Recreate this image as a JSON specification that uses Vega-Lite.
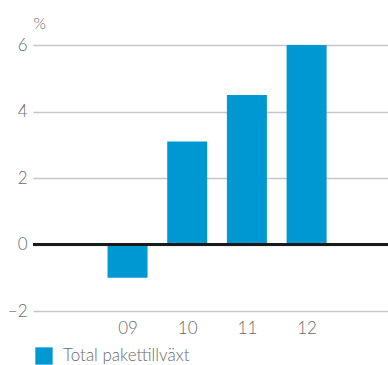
{
  "$schema": "https://vega.github.io/schema/vega-lite/v6.json",
  "width": 355,
  "height": 266,
  "autosize": "none",
  "padding": {"left": 33, "top": 45, "right": 0, "bottom": 54},
  "background": "white",
  "config": {
    "view": {"stroke": null},
    "font": "Lato",
    "axis": {"labelFont": "Lato", "labelFontWeight": 300, "labelColor": "#6a6a6a", "labelFontSize": 17, "titleFont": "Lato"},
    "legend": {"labelFont": "Lato", "labelFontWeight": 300}
  },
  "data": {
    "values": [
      {"year": 9, "value": -1.0, "series": "Total pakettillväxt"},
      {"year": 10, "value": 3.1, "series": "Total pakettillväxt"},
      {"year": 11, "value": 4.5, "series": "Total pakettillväxt"},
      {"year": 12, "value": 6.0, "series": "Total pakettillväxt"}
    ]
  },
  "layer": [
    {
      "mark": {"type": "bar", "width": 40},
      "encoding": {
        "x": {
          "field": "year",
          "type": "quantitative",
          "scale": {"domain": [7.5, 13.28], "nice": false, "zero": false},
          "axis": {
            "title": null,
            "values": [9, 10, 11, 12],
            "labelExpr": "datum.value < 10 ? '0' + datum.value : '' + datum.value",
            "grid": false,
            "domain": false,
            "ticks": false,
            "labelPadding": 9
          }
        },
        "y": {
          "field": "value",
          "type": "quantitative",
          "scale": {"domain": [-2, 6], "nice": false},
          "axis": {
            "title": "%",
            "titleAngle": 0,
            "titleAlign": "left",
            "titleBaseline": "alphabetic",
            "titleX": 0,
            "titleY": -17,
            "titleFontSize": 16,
            "titleFontWeight": 300,
            "titleColor": "#6a6a6a",
            "values": [-2, 0, 2, 4, 6],
            "labelExpr": "datum.value < 0 ? '–' + abs(datum.value) : datum.label",
            "domain": false,
            "ticks": false,
            "labelPadding": 6,
            "gridColor": "#c6c6c6",
            "gridWidth": 1.5
          }
        },
        "color": {
          "field": "series",
          "type": "nominal",
          "scale": {"range": ["#0098d3"]},
          "legend": {
            "title": null,
            "orient": "none",
            "legendX": 2,
            "legendY": 302,
            "symbolType": "square",
            "symbolSize": 300,
            "symbolStrokeWidth": 0,
            "symbolOpacity": 1,
            "labelFontSize": 17,
            "labelColor": "#6a6a6a",
            "labelOffset": 10,
            "padding": 0
          }
        }
      }
    },
    {
      "mark": {"type": "rule", "color": "#1a1a1a", "strokeWidth": 2.5},
      "encoding": {"y": {"datum": 0}}
    }
  ]
}
